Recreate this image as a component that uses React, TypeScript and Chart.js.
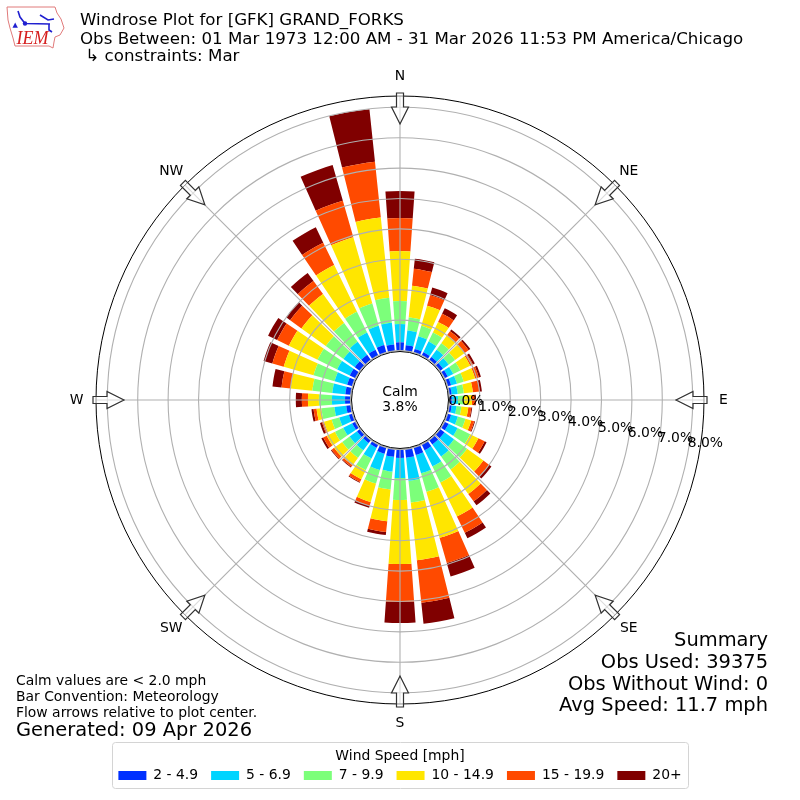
import React, { useEffect, useRef } from "react";
import { Chart, registerables, PolarAreaController } from "chart.js";

Chart.defaults.font.family = "'DejaVu Sans'";

// Percent of observations per band for each of 36 directions, clockwise from N.
const bandNames = ["2 - 4.9", "5 - 6.9", "7 - 9.9", "10 - 14.9", "15 - 19.9", "20+"];
const bandColors = ["#0030ff", "#00d4ff", "#7cff7a", "#ffe600", "#ff4a00", "#800000"];
const band2to5 = [.27,.18,.12,.12,.12,.12,.12,.12,.08,.08,.08,.12,.15,.18,.18,.21,.25,.28,.28,.25,.21,.12,.12,.12,.12,.12,.15,.18,.18,.18,.21,.21,.21,.21,.25,.21];
const band5to7 = [.60,.49,.43,.39,.30,.23,.20,.20,.20,.20,.16,.23,.33,.39,.49,.59,.63,.76,.66,.49,.56,.39,.30,.30,.33,.33,.39,.43,.43,.43,.46,.46,.53,.63,.66,.72];
const band7to10 = [.76,.43,.36,.33,.26,.26,.26,.23,.20,.20,.16,.26,.46,.53,.53,.59,.63,.72,.72,.59,.46,.43,.30,.30,.30,.26,.43,.43,.66,.72,.72,.72,.76,.76,.76,.82];
const band10to15 = [1.64,1.05,.69,.39,.33,.39,.36,.39,.30,.26,.23,.20,.30,.66,.99,1.25,1.58,1.91,2.11,1.05,.63,.33,.30,.33,.30,.26,.16,.36,.72,1.02,1.05,.99,1.18,1.71,2.27,2.66];
const band15to20 = [1.09,.56,.36,.30,.16,.16,.10,.13,.23,.10,.10,.10,.23,.23,.30,.59,.86,1.41,1.25,.36,.13,.10,.07,.10,.13,.07,.10,.20,.30,.39,.43,.46,.53,.82,1.25,1.84];
const band20up = [.89,.33,.26,.20,.07,.07,.07,.07,.07,.03,.03,.03,.07,.10,.16,.20,.46,.69,.69,.10,.07,.03,.03,.03,.07,.07,.07,.20,.30,.30,.33,.16,.33,.56,1.22,1.74];
const bands = [band2to5, band5to7, band7to10, band10to15, band15to20, band20up];

const compass = ["N", "NE", "E", "SE", "S", "SW", "W", "NW"];
const tickValues = [0, 1, 2, 3, 4, 5, 6, 7, 8];
const titleLines = [
  "Windrose Plot for [GFK] GRAND_FORKS",
  "Obs Between: 01 Mar 1973 12:00 AM - 31 Mar 2026 11:53 PM America/Chicago",
  " \u21b3 constraints: Mar",
];
const noteLines = ["Calm values are < 2.0 mph", "Bar Convention: Meteorology", "Flow arrows relative to plot center."];
const generated = "Generated: 09 Apr 2026";
const summaryLines = ["Summary", "Obs Used: 39375", "Obs Without Wind: 0", "Avg Speed: 11.7 mph"];
const calmLines = ["Calm", "3.8%"];

const SECTOR = 10;
const BAR_WIDTH = 8;
const rad = (d: number) => (d * Math.PI) / 180;

class WindroseController extends (PolarAreaController as any) {
  static id = "windrose";
  static defaults = (PolarAreaController as any).defaults;
  static overrides = (PolarAreaController as any).overrides;
  updateElement(arc: any, index: number, props: any, mode: any) {
    if (props) {
      const scale = this.chart.scales.r;
      const sets = this.chart.data.datasets;
      let base = 0;
      for (let i = 0; i < this.index; i++) base += sets[i].data[index];
      const value = sets[this.index].data[index];
      const c = rad(index * SECTOR) - Math.PI / 2;
      const half = rad(BAR_WIDTH) / 2;
      props.startAngle = c - half;
      props.endAngle = c + half;
      props.circumference = half * 2;
      props.innerRadius = scale.getDistanceFromCenterForValue(base);
      props.outerRadius = scale.getDistanceFromCenterForValue(base + value);
    }
    super.updateElement(arc, index, props, mode);
  }
}

Chart.register(...registerables, WindroseController as any);

function drawLogo(ctx: CanvasRenderingContext2D) {
  ctx.save();
  ctx.strokeStyle = "#e07a7a";
  ctx.lineWidth = 1;
  ctx.beginPath();
  const outline = [[7,7],[55,7],[57,13],[61,19],[64,28],[60,35],[55,37],[54,42],[53,48],[49,46],[15,46],[13,38],[10,28],[8,20]];
  outline.forEach(([x, y], i) => (i ? ctx.lineTo(x, y) : ctx.moveTo(x, y)));
  ctx.closePath();
  ctx.stroke();
  ctx.strokeStyle = "#2020d0";
  ctx.fillStyle = "#2020d0";
  ctx.lineWidth = 1.6;
  ctx.beginPath();
  ctx.moveTo(25, 23.5); ctx.lineTo(50, 24);
  ctx.moveTo(25, 23.5); ctx.lineTo(20, 17); ctx.lineTo(18, 11);
  ctx.moveTo(40, 15); ctx.lineTo(48, 20); ctx.lineTo(54, 19);
  ctx.moveTo(49, 24); ctx.lineTo(49, 30); ctx.lineTo(52, 32);
  ctx.stroke();
  ctx.beginPath();
  ctx.arc(25, 23.5, 2.2, 0, Math.PI * 2);
  ctx.fill();
  ctx.font = "7px 'DejaVu Sans'";
  ctx.fillText("\u25b2", 18, 27);
  ctx.fillStyle = "#d62020";
  ctx.font = "italic 18px 'Liberation Serif'";
  ctx.textAlign = "left";
  ctx.textBaseline = "alphabetic";
  ctx.fillText("IEM", 16.5, 44);
  ctx.restore();
}

function drawArrow(ctx: CanvasRenderingContext2D, cx: number, cy: number, deg: number, r: number) {
  ctx.save();
  ctx.translate(cx, cy);
  ctx.rotate(rad(deg));
  ctx.beginPath();
  ctx.moveTo(-3.5, -r - 3);
  ctx.lineTo(3.5, -r - 3);
  ctx.lineTo(3.5, -r + 11);
  ctx.lineTo(8.5, -r + 11);
  ctx.lineTo(0, -r + 28);
  ctx.lineTo(-8.5, -r + 11);
  ctx.lineTo(-3.5, -r + 11);
  ctx.closePath();
  ctx.fillStyle = "rgba(255,255,255,0.55)";
  ctx.fill();
  ctx.strokeStyle = "#303030";
  ctx.lineWidth = 1.2;
  ctx.stroke();
  ctx.restore();
}

const decorations = {
  id: "windroseDecorations",
  beforeDraw(chart: any) {
    const { ctx } = chart;
    ctx.save();
    ctx.strokeStyle = "#d4d4d4";
    ctx.lineWidth = 1;
    ctx.beginPath();
    (ctx as any).roundRect(112.5, 742.5, 576, 46, 3);
    ctx.stroke();
    ctx.restore();
  },
  afterDraw(chart: any) {
    const { ctx } = chart;
    const scale = chart.scales.r;
    const cx = scale.xCenter;
    const cy = scale.yCenter;
    const R = scale.drawingArea;
    ctx.save();

    ctx.strokeStyle = "#000";
    ctx.lineWidth = 1;
    ctx.beginPath();
    ctx.arc(cx, cy, R, 0, Math.PI * 2);
    ctx.stroke();
    ctx.beginPath();
    ctx.arc(cx, cy, scale.getDistanceFromCenterForValue(0) - 1, 0, Math.PI * 2);
    ctx.fillStyle = "#fff";
    ctx.fill();
    ctx.stroke();

    compass.forEach((_, i) => drawArrow(ctx, cx, cy, i * 45, R));

    ctx.fillStyle = "#000";
    ctx.font = "13.9px 'DejaVu Sans'";
    ctx.textAlign = "center";
    ctx.textBaseline = "middle";
    compass.forEach((label, i) => {
      const a = rad(i * 45 - 90);
      ctx.fillText(label, cx + 323.5 * Math.cos(a), cy + 323.5 * Math.sin(a));
    });
    ctx.fillText(calmLines[0], cx, cy - 8);
    ctx.fillText(calmLines[1], cx, cy + 7);

    ctx.textAlign = "left";
    ctx.textBaseline = "bottom";
    tickValues.forEach((v) => {
      const r = scale.getDistanceFromCenterForValue(v);
      const a = rad(10);
      ctx.fillText(v.toFixed(1) + "%", cx + r * Math.cos(a) - 0.5, cy + r * Math.sin(a));
    });

    ctx.textBaseline = "alphabetic";
    ctx.font = "16.67px 'DejaVu Sans'";
    ctx.fillText(titleLines[0], 80, 25);
    ctx.fillText(titleLines[1], 80, 44);
    ctx.fillText(titleLines[2], 80, 61);

    ctx.font = "13.9px 'DejaVu Sans'";
    noteLines.forEach((t, i) => ctx.fillText(t, 16, 685 + i * 16));
    ctx.font = "19.44px 'DejaVu Sans'";
    ctx.fillText(generated, 16, 736);

    ctx.textAlign = "right";
    summaryLines.forEach((t, i) => ctx.fillText(t, 768, 646 + i * 21.8));

    drawLogo(ctx);
    ctx.restore();
  },
};

export default function App() {
  const ref = useRef<HTMLCanvasElement>(null);
  useEffect(() => {
    const chart = new Chart(ref.current as HTMLCanvasElement, {
      type: "windrose" as any,
      data: {
        labels: compass,
        datasets: bands.map((values, i) => ({
          label: bandNames[i],
          data: values,
          backgroundColor: bandColors[i],
          borderWidth: 0,
        })),
      },
      options: {
        responsive: false,
        animation: false,
        devicePixelRatio: 1,
        layout: { padding: { top: 52.5, bottom: 7.6, left: 96, right: 96 } },
        scales: {
          r: {
            type: "radialLinear",
            min: -1.628,
            max: 8.372,
            bounds: "data",
            startAngle: 0,
            afterBuildTicks: (s: any) => {
              s.ticks = tickValues.map((value) => ({ value }));
            },
            ticks: { display: false },
            grid: { circular: true, color: "#b0b0b0", lineWidth: 1.1, z: 1 },
            angleLines: { display: true, color: "#b0b0b0", lineWidth: 1.1 },
            pointLabels: { display: false },
          },
        },
        plugins: {
          tooltip: { enabled: false },
          title: { display: false },
          legend: {
            display: true,
            position: "bottom",
            title: {
              display: true,
              text: "Wind Speed [mph]",
              color: "#000",
              font: { size: 13.9 },
              padding: { top: 0, bottom: -10.2 },
            },
            labels: {
              boxWidth: 28,
              boxHeight: 9,
              padding: 13,
              color: "#000",
              font: { size: 13.9 },
              generateLabels: (c: any) =>
                c.data.datasets.map((d: any, i: number) => ({
                  text: d.label,
                  fillStyle: d.backgroundColor,
                  strokeStyle: d.backgroundColor,
                  lineWidth: 0,
                  datasetIndex: i,
                  hidden: false,
                })),
            },
          },
        },
      } as any,
      plugins: [decorations],
    });
    return () => chart.destroy();
  }, []);
  return (
    <div style={{ position: "absolute", left: 0, top: 0, width: 800, height: 800 }}>
      <canvas ref={ref} width={800} height={800} style={{ display: "block" }} />
    </div>
  );
}
